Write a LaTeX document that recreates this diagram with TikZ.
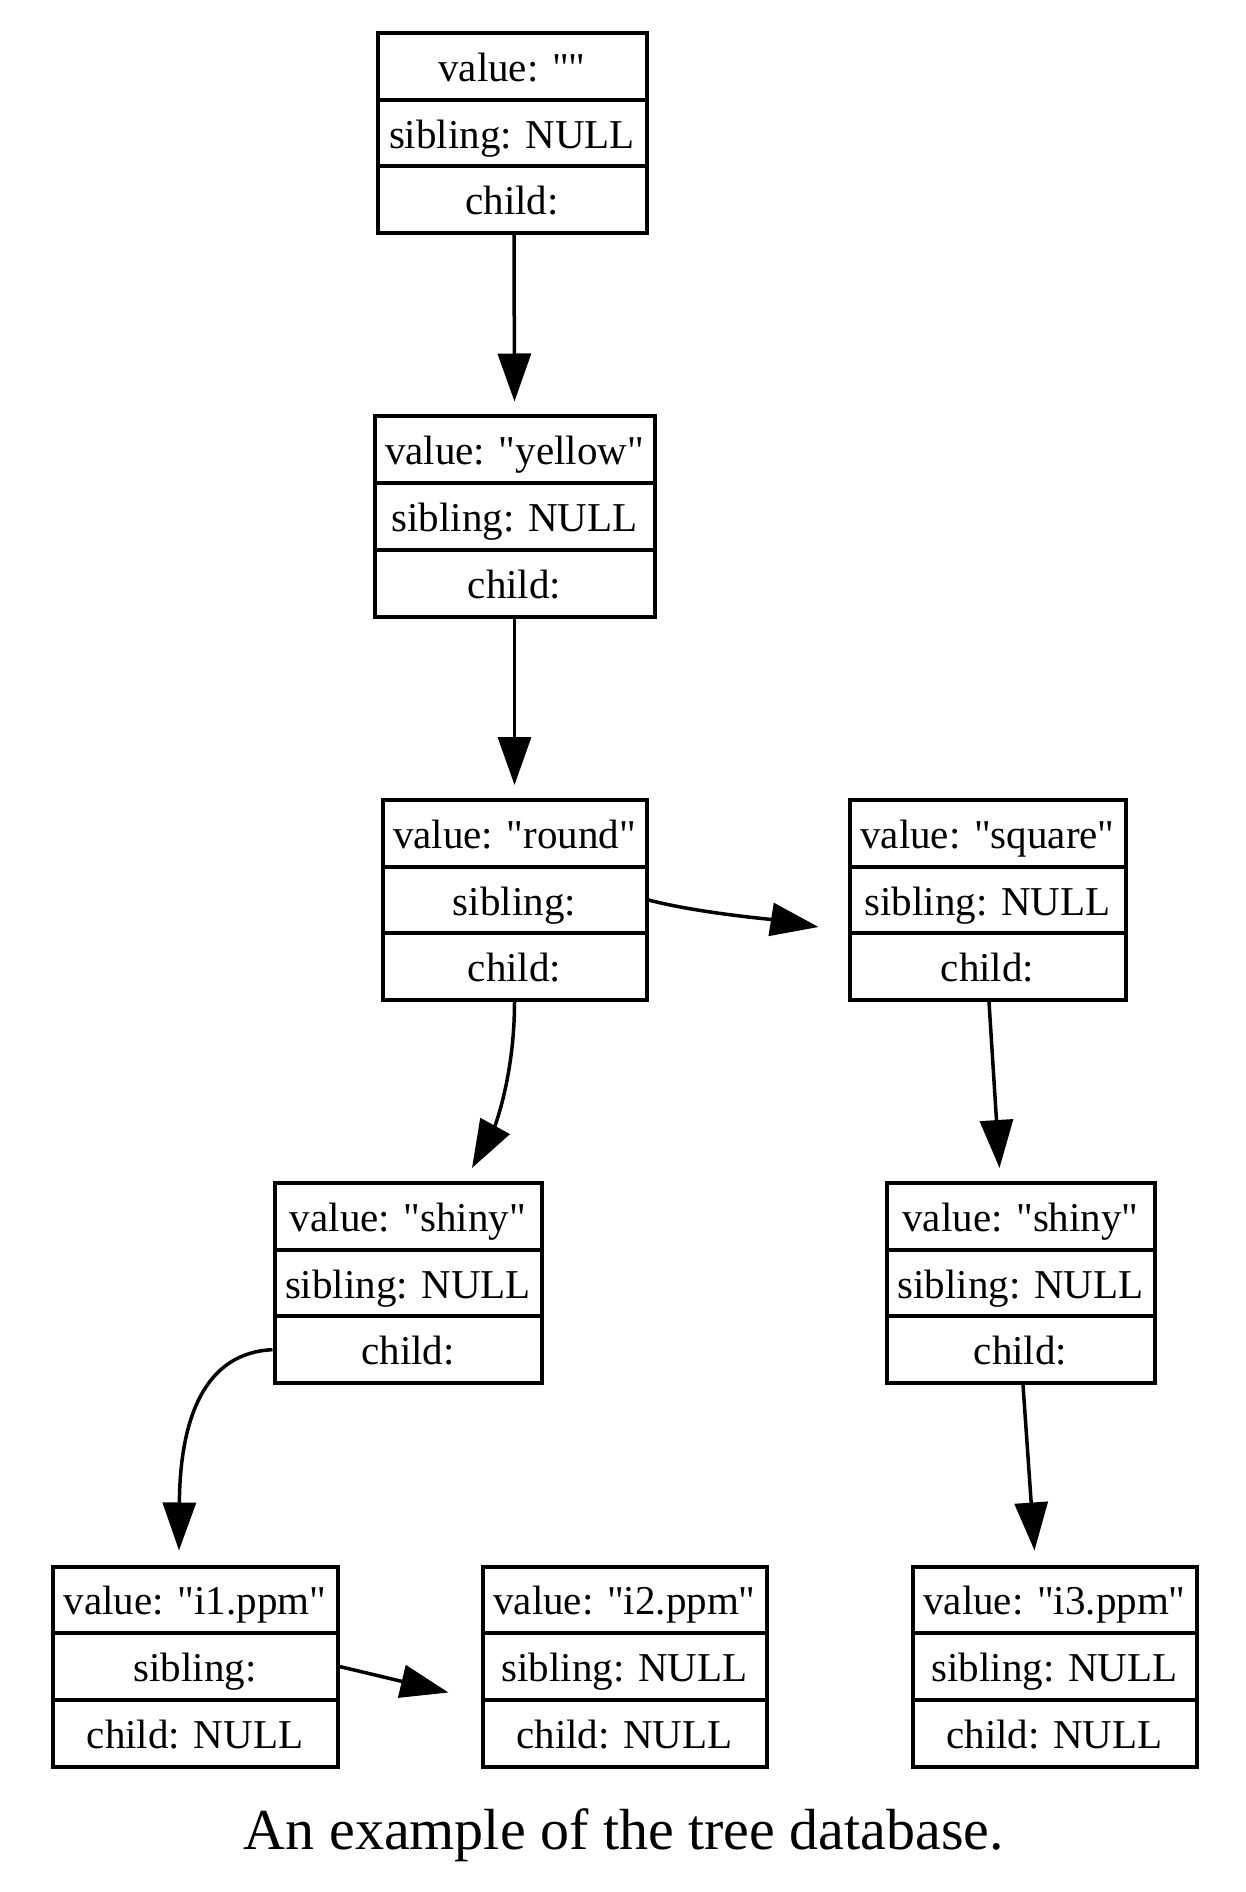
\documentclass[tikz,border=0pt]{standalone}
\usepackage{fontspec}
\setmainfont{Liberation Serif}[Ligatures=TeXOff]
\usetikzlibrary{arrows.meta,calc}

\tikzset{
  cell/.style={draw, line width=4pt, minimum height=66.67pt, inner sep=0pt,
    text height=30pt, text depth=0pt, font=\fontsize{41}{49}\selectfont},
  link/.style={line width=3.5pt, -{Triangle[length=48pt,width=33pt]}},
}

% A three-field record: name, centre x, top y, width, value, sibling, child
\newcommand\recordbox[7]{%
  \node[cell, minimum width=#4pt] (#1-v) at (#2, #3+33.33) {#5};
  \node[cell, minimum width=#4pt] (#1-s) at (#2, #3+100) {#6};
  \node[cell, minimum width=#4pt] (#1-c) at (#2, #3+166.67) {#7};
}

\begin{document}
\begin{tikzpicture}[x=1pt, y=-1pt]
\useasboundingbox (0,0) rectangle (1246,1892);

\recordbox{root}{512}{33}{269}{value: ""}{sibling: NULL}{child:}
\recordbox{yellow}{514.5}{416.5}{280}{value: "yellow"}{sibling: NULL}{child:}
\recordbox{round}{514.5}{800}{264}{value: "round"}{sibling:}{child:}
\recordbox{square}{987.5}{800}{276}{value: "square"}{sibling: NULL}{child:}
\recordbox{shinyL}{408}{1183}{267}{value: "shiny"}{sibling: NULL}{child:}
\recordbox{shinyR}{1020.5}{1183}{268}{value: "shiny"}{sibling: NULL}{child:}
\recordbox{ia}{195}{1566.5}{285}{value: "i1.ppm"}{sibling:}{child: NULL}
\recordbox{ib}{624.5}{1566.5}{284}{value: "i2.ppm"}{sibling: NULL}{child: NULL}
\recordbox{ic}{1054.5}{1566.5}{284}{value: "i3.ppm"}{sibling: NULL}{child: NULL}

% child links
\draw[link] ($(root-c.south)+(2,0)$) -- ($(yellow-v.north)+(0,-13)$);
\draw[link] (yellow-c.south) -- ($(round-v.north)+(0,-13)$);
\draw[link] (round-c.south) .. controls +(0,75) and +(22,-40) .. ($(shinyL-v.north)+(64,-13)$);
\draw[link] ($(square-c.south)+(1.5,0)$) -- ($(shinyR-v.north)+(-21,-13)$);
\draw[link] (shinyL-c.west) .. controls +(-68,3) and +(1,-132) .. ($(ia-v.north)+(-16,-14)$);
\draw[link] ($(shinyR-c.south)+(2.5,0)$) -- ($(ic-v.north)+(-20,-14)$);

% sibling links
\draw[link] (round-s.east) .. controls +(50,13) and +(-50,-8) .. ($(square-s.west)+(-29,27)$);
\draw[link] (ia-s.east) -- ($(ib-s.west)+(-32,26)$);

\node[font=\fontsize{58}{68}\selectfont, inner sep=0pt] (caption) at (624,1835) {An example of the tree database.};
\end{tikzpicture}
\end{document}
